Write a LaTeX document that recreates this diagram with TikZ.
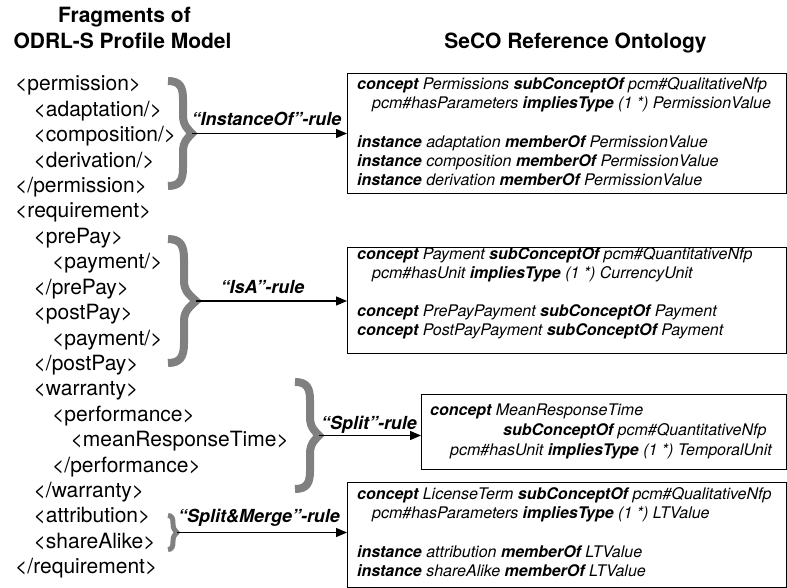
\documentclass[tikz,border=0pt]{standalone}
\usepackage{fontspec}
\setmainfont{TeX Gyre Heros}
\usetikzlibrary{arrows.meta}

\tikzset{
  heading/.style={anchor=base, inner sep=0pt, font=\fontsize{21}{25}\selectfont\bfseries},
  xmltag/.style={anchor=base west, inner sep=0pt, font=\fontsize{21}{25}\selectfont},
  ontbox/.style={draw, rectangle, line width=1.2pt, inner sep=0pt, anchor=north west},
  onttext/.style={anchor=base west, inner sep=0pt, font=\fontsize{16}{19}\selectfont\itshape},
  rulelabel/.style={anchor=base, inner sep=0pt, font=\fontsize{18}{22}\selectfont\bfseries\itshape},
  grouparrow/.style={line width=1.3pt, -{Triangle[length=11pt,width=9pt]}},
  grpbrace/.style={draw=gray, line width=8pt, line cap=butt, line join=miter},
}

% Curly brace opening to the right.
% #1 extra style, #2 tip name, #3 left end x, #4 stem x, #5 tip x,
% #6 top y, #7 bottom y, #8 curl length
\newcommand{\grpbrace}[8]{%
  \pgfmathsetmacro\bracemid{(#6+#7)/2}%
  \coordinate (#2) at (#5,\bracemid);
  \draw[grpbrace,#1] (#3,#6)
    .. controls ({#3+0.8*(#4-#3)},#6) and (#4,{#6+0.35*#8}) .. (#4,{#6+#8})
    -- (#4,{\bracemid-#8})
    .. controls (#4,{\bracemid-0.45*#8}) and ({#5-0.4*(#5-#4)},{\bracemid-0.4*(#5-#4)}) .. (#2)
    .. controls ({#5-0.4*(#5-#4)},{\bracemid+0.4*(#5-#4)}) and (#4,{\bracemid+0.45*#8}) .. (#4,{\bracemid+#8})
    -- (#4,{#7-#8})
    .. controls (#4,{#7-0.35*#8}) and ({#3+0.8*(#4-#3)},#7) .. (#3,#7);
}

\begin{document}
\begin{tikzpicture}[x=1pt,y=-1pt]
\useasboundingbox (0,0) rectangle (787,588);

% column headings
\node[heading] (h1) at (124.5,23) {Fragments of};
\node[heading] (h2) at (122.5,48.3) {ODRL-S Profile Model};
\node[heading] (h3) at (575.5,48.3) {SeCO Reference Ontology};

% ODRL-S fragment listing (baseline step 25.4, indent step 18.5)
\node[xmltag] (x01) at (15,91.0)    {<permission>};
\node[xmltag] (x02) at (33.5,116.4) {<adaptation/>};
\node[xmltag] (x03) at (33.5,141.8) {<composition/>};
\node[xmltag] (x04) at (33.5,167.2) {<derivation/>};
\node[xmltag] (x05) at (15,192.6)   {</permission>};
\node[xmltag] (x06) at (15,218.0)   {<requirement>};
\node[xmltag] (x07) at (33.5,243.4) {<prePay>};
\node[xmltag] (x08) at (52,268.8)   {<payment/>};
\node[xmltag] (x09) at (33.5,294.2) {</prePay>};
\node[xmltag] (x10) at (33.5,319.6) {<postPay>};
\node[xmltag] (x11) at (52,345.0)   {<payment/>};
\node[xmltag] (x12) at (33.5,370.4) {</postPay>};
\node[xmltag] (x13) at (33.5,395.8) {<warranty>};
\node[xmltag] (x14) at (52,421.2)   {<performance>};
\node[xmltag] (x15) at (70.5,446.6) {<meanResponseTime>};
\node[xmltag] (x16) at (52,472.0)   {</performance>};
\node[xmltag] (x17) at (33.5,497.4) {</warranty>};
\node[xmltag] (x18) at (33.5,522.8) {<attribution>};
\node[xmltag] (x19) at (33.5,548.2) {<shareAlike>};
\node[xmltag] (x20) at (15,573.6)   {</requirement>};

% ontology boxes
\node[ontbox, minimum width=439pt, minimum height=120pt] (b1) at (347,73) {};
\node[ontbox, minimum width=439pt, minimum height=106pt] (b2) at (347,247) {};
\node[ontbox, minimum width=365pt, minimum height=75pt]  (b3) at (421,394) {};
\node[ontbox, minimum width=439pt, minimum height=105pt] (b4) at (347,482) {};

% box 1
\node[onttext] (b1a) at (357,89.5)  {\textbf{concept} Permissions \textbf{subConceptOf} pcm\#QualitativeNfp};
\node[onttext] (b1b) at (372,108.7) {pcm\#hasParameters \textbf{impliesType} (1 *) PermissionValue};
\node[onttext] (b1c) at (357,147.1) {\textbf{instance} adaptation \textbf{memberOf} PermissionValue};
\node[onttext] (b1d) at (357,166.3) {\textbf{instance} composition \textbf{memberOf} PermissionValue};
\node[onttext] (b1e) at (357,185.5) {\textbf{instance} derivation \textbf{memberOf} PermissionValue};

% box 2
\node[onttext] (b2a) at (357,259.5) {\textbf{concept} Payment \textbf{subConceptOf} pcm\#QuantitativeNfp};
\node[onttext] (b2b) at (372,278.5) {pcm\#hasUnit \textbf{impliesType} (1 *) CurrencyUnit};
\node[onttext] (b2c) at (357,316)   {\textbf{concept} PrePayPayment \textbf{subConceptOf} Payment};
\node[onttext] (b2d) at (357,335)   {\textbf{concept} PostPayPayment \textbf{subConceptOf} Payment};

% box 3
\node[onttext] (b3a) at (430,415.5) {\textbf{concept} MeanResponseTime};
\node[onttext] (b3b) at (503,435)   {\textbf{subConceptOf} pcm\#QuantitativeNfp};
\node[onttext] (b3c) at (450,455)   {pcm\#hasUnit \textbf{impliesType} (1 *) TemporalUnit};

% box 4
\node[onttext] (b4a) at (357,499.5) {\textbf{concept} LicenseTerm \textbf{subConceptOf} pcm\#QualitativeNfp};
\node[onttext] (b4b) at (372,518.7) {pcm\#hasParameters \textbf{impliesType} (1 *) LTValue};
\node[onttext] (b4c) at (357,557)   {\textbf{instance} attribution \textbf{memberOf} LTValue};
\node[onttext] (b4d) at (357,576.5) {\textbf{instance} shareAlike \textbf{memberOf} LTValue};

% grouping braces
\grpbrace{}{t1}{168}{183}{192}{81}{186}{18}
\grpbrace{}{t2}{168}{184}{196}{239}{363}{20}
\grpbrace{}{t3}{295}{310}{319}{382}{489}{18}
\grpbrace{line width=5pt}{t4}{168}{173}{177}{515.5}{549.5}{8}

% mapping rules
\draw[grouparrow] (t1) -- (t1 -| b1.west)
  node[rulelabel, midway, yshift=8pt, xshift=-3pt] {“InstanceOf”-rule};
\draw[grouparrow] (t2) -- (t2 -| b2.west)
  node[rulelabel, midway, yshift=8pt, xshift=-9pt] {“IsA”-rule};
\draw[grouparrow] (t3) -- (t3 -| b3.west)
  node[rulelabel, midway, yshift=6pt, xshift=-1pt] {“Split”-rule};
\draw[grouparrow] (t4) -- (t4 -| b4.west)
  node[rulelabel, midway, yshift=10pt, xshift=-3pt] {“Split\&Merge”-rule};
\end{tikzpicture}
\end{document}
